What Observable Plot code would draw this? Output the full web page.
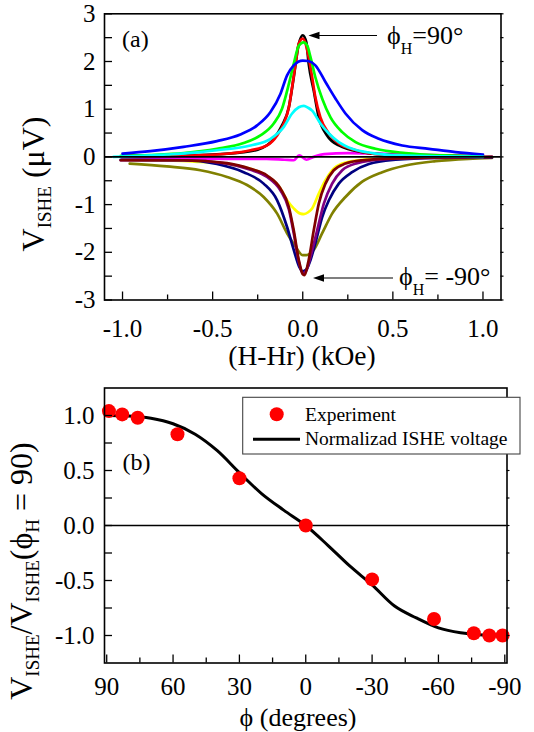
<!DOCTYPE html>
<html><head><meta charset="utf-8">
<script src="https://cdn.jsdelivr.net/npm/d3@7"></script>
<script src="https://cdn.jsdelivr.net/npm/@observablehq/plot@0.6"></script>
<style>
body{margin:0;background:#fff;}
#wrap{width:534px;height:732px;position:relative;overflow:hidden;background:#fff;}
svg{display:block;}
</style></head><body><div id="wrap"></div>
<script>
// ---------- Panel (a) data: [H - Hr (kOe), V_ISHE (µV)] ----------
const magentaA = [[-1.0,-0.02],[-0.8,-0.03],[-0.6,-0.03],[-0.4,-0.04],[-0.2,-0.04],[-0.1,-0.06],[-0.05,-0.07],[-0.02,0.03],[0.02,-0.06],[0.06,0.0],[0.12,0.06],[0.25,0.08],[0.4,0.07],[0.6,0.05],[0.8,0.03],[1.0,0.01]];
const oliveA = [[-0.96,-0.14],[-0.754,-0.20],[-0.568,-0.28],[-0.42,-0.42],[-0.309,-0.59],[-0.217,-0.84],[-0.142,-1.19],[-0.087,-1.60],[-0.04,-1.88],[0.0,-2.06],[0.02,-2.06],[0.061,-1.95],[0.108,-1.60],[0.163,-1.19],[0.237,-0.84],[0.33,-0.52],[0.441,-0.32],[0.57,-0.18],[0.737,-0.09],[0.92,-0.04],[1.05,-0.02]];
const yellowA = [[-1.0,-0.06],[-0.6,-0.10],[-0.4,-0.16],[-0.29,-0.25],[-0.198,-0.40],[-0.124,-0.66],[-0.087,-0.91],[-0.05,-1.08],[-0.013,-1.19],[0.006,-1.20],[0.03,-1.16],[0.052,-1.08],[0.089,-0.77],[0.126,-0.49],[0.163,-0.28],[0.219,-0.14],[0.33,-0.06],[0.5,-0.03],[0.75,-0.01],[1.0,0.0]];
const navyA = [[-1.01,-0.06],[-0.66,-0.07],[-0.476,-0.15],[-0.328,-0.32],[-0.217,-0.56],[-0.142,-0.91],[-0.087,-1.47],[-0.05,-1.95],[-0.02,-2.30],[0.0,-2.40],[0.02,-2.36],[0.043,-2.16],[0.07,-1.81],[0.108,-1.26],[0.145,-0.91],[0.2,-0.56],[0.274,-0.32],[0.367,-0.15],[0.515,-0.06],[0.74,-0.02],[1.05,-0.01]];
const purpleA = [[-1.01,-0.07],[-0.66,-0.07],[-0.42,-0.14],[-0.29,-0.27],[-0.198,-0.42],[-0.124,-0.70],[-0.077,-1.10],[-0.05,-1.60],[-0.022,-2.20],[0.0,-2.44],[0.02,-2.38],[0.043,-2.09],[0.08,-1.54],[0.117,-0.98],[0.163,-0.56],[0.219,-0.28],[0.302,-0.13],[0.44,-0.05],[0.7,-0.02],[1.05,0.0]];
const maroonA = [[-1.01,-0.07],[-0.66,-0.07],[-0.42,-0.13],[-0.29,-0.25],[-0.198,-0.39],[-0.124,-0.66],[-0.077,-1.05],[-0.05,-1.54],[-0.022,-2.16],[0.0,-2.46],[0.008,-2.48],[0.033,-2.16],[0.061,-1.54],[0.089,-0.98],[0.126,-0.56],[0.172,-0.28],[0.237,-0.14],[0.33,-0.07],[0.52,-0.03],[0.75,-0.01],[1.05,0.0]];
const blackA = [[-1.0,0.02],[-0.75,0.03],[-0.5,0.05],[-0.35,0.09],[-0.25,0.15],[-0.16,0.38],[-0.115,0.66],[-0.077,1.04],[-0.05,1.67],[-0.022,2.37],[0.0,2.55],[0.02,2.40],[0.033,1.95],[0.061,1.39],[0.089,0.83],[0.135,0.45],[0.2,0.24],[0.33,0.10],[0.5,0.04],[0.75,0.02],[1.0,0.01]];
const redA = [[-1.0,0.01],[-0.75,0.02],[-0.476,0.05],[-0.29,0.14],[-0.198,0.24],[-0.142,0.45],[-0.105,0.70],[-0.077,1.04],[-0.059,1.46],[-0.04,1.95],[-0.022,2.37],[0.0,2.48],[0.033,2.09],[0.052,1.67],[0.07,1.25],[0.098,0.83],[0.145,0.49],[0.2,0.28],[0.293,0.14],[0.44,0.05],[0.7,0.02],[1.0,0.01]];
const greenA = [[-1.01,0.02],[-0.85,0.04],[-0.66,0.08],[-0.476,0.17],[-0.328,0.29],[-0.235,0.45],[-0.161,0.70],[-0.115,1.01],[-0.077,1.53],[-0.05,1.95],[-0.022,2.33],[0.005,2.40],[0.025,2.33],[0.043,2.09],[0.07,1.67],[0.108,1.22],[0.154,0.83],[0.219,0.52],[0.293,0.31],[0.404,0.17],[0.57,0.08],[0.79,0.03],[1.0,0.01]];
const blueA = [[-1.0,0.07],[-0.846,0.12],[-0.661,0.21],[-0.476,0.33],[-0.346,0.47],[-0.253,0.66],[-0.179,0.94],[-0.124,1.32],[-0.087,1.71],[-0.05,1.92],[0.0,2.02],[0.03,2.01],[0.07,1.92],[0.126,1.57],[0.182,1.22],[0.237,0.91],[0.33,0.56],[0.422,0.38],[0.552,0.24],[0.70,0.17],[0.848,0.10],[1.0,0.05]];
const cyanA = [[-1.05,0.0],[-0.9,0.02],[-0.754,0.05],[-0.6,0.09],[-0.476,0.14],[-0.29,0.24],[-0.179,0.38],[-0.105,0.63],[-0.059,0.91],[-0.022,1.04],[0.006,1.07],[0.03,1.03],[0.052,0.97],[0.098,0.70],[0.145,0.49],[0.2,0.31],[0.274,0.17],[0.386,0.08],[0.55,0.03],[0.8,0.01],[1.0,0.0]];

const xMajorA = [-1.0, -0.5, 0.0, 0.5, 1.0];
const xMinorA = [-0.75, -0.25, 0.25, 0.75];
const yMajorA = [-3, -2, -1, 0, 1, 2, 3];
const yMinorA = [-2.5, -1.5, -0.5, 0.5, 1.5, 2.5];

// ---------- Panel (b) data ----------
const expPhi = [89, 83, 76, 58, 30, 0, -30, -58, -76, -83, -89];
const expV   = [1.04, 1.01, 0.98, 0.83, 0.43, 0.0, -0.49, -0.85, -0.98, -1.0, -1.0];
const fitPhi = [90, 80, 70, 60, 50, 40, 30, 20, 10, 0, -10, -20, -30, -40, -50, -60, -70, -80, -90];
const fitV   = [1.0, 0.995, 0.975, 0.925, 0.83, 0.68, 0.48, 0.29, 0.14, 0.0, -0.18, -0.37, -0.54, -0.73, -0.84, -0.93, -0.975, -0.995, -1.0];
const xMajorB = [90, 60, 30, 0, -30, -60, -90];
const xMinorB = [75, 45, 15, -15, -45, -75];
const yMajorB = [-1.0, -0.5, 0.0, 0.5, 1.0];
const yMinorB = [-0.75, -0.25, 0.25, 0.75];

const FONT = "'Liberation Serif','Times New Roman',Times,serif";
const wrap = document.getElementById("wrap");

// ---------- Panel (a) ----------
const A = {w:534, h:372, mt:13.3, mb:72.5, ml:104, mr:33.5, xd:[-1.1,1.1], yd:[-3,3]};
const pxA = (A.xd[1]-A.xd[0])/(A.w-A.ml-A.mr);   // data units per px (x)
const pyA = (A.yd[1]-A.yd[0])/(A.h-A.mt-A.mb);   // data units per px (y)

const seriesA = [
  [magentaA,"#ff00ff"],[oliveA,"#808000"],[yellowA,"#ffff00"],[navyA,"#000080"],
  [purpleA,"#800080"],[maroonA,"#800000"],[blackA,"#000000"],[redA,"#ff0000"],
  [greenA,"#00ff00"],[blueA,"#0000ff"],[cyanA,"#00ffff"]
];

const plotA = Plot.plot({
  width: A.w, height: A.h, marginTop: A.mt, marginBottom: A.mb, marginLeft: A.ml, marginRight: A.mr,
  style: {fontFamily: FONT, fontSize: "25px", color: "#000", background: "#fff", overflow: "visible"},
  x: {domain: A.xd, ticks: xMajorA, tickFormat: d => d.toFixed(1), tickSize: 0, tickPadding: 19, label: null},
  y: {domain: A.yd, ticks: yMajorA, tickFormat: d => String(d), tickSize: 0, tickPadding: 9, label: null},
  marks: [
    ...seriesA.map(([data, color]) => Plot.line(data, {x: d => d[0], y: d => d[1], stroke: color, strokeWidth: 2.7, curve: "monotone-x"})),
    Plot.ruleY([0], {stroke: "#000", strokeWidth: 1.6}),
    Plot.ruleY(yMajorA.concat(yMinorA), {y: d => d, x1: A.xd[0], x2: A.xd[0] + 8*pxA, stroke: "#000", strokeWidth: 1.3}),
    Plot.ruleY(yMajorA.concat(yMinorA), {y: d => d, x1: A.xd[1], x2: A.xd[1] + 3*pxA, stroke: "#000", strokeWidth: 1.2}),
    Plot.ruleX(xMajorA, {x: d => d, y1: A.yd[0], y2: A.yd[0] + 8*pyA, stroke: "#000", strokeWidth: 1.3}),
    Plot.ruleX(xMinorA, {x: d => d, y1: A.yd[0], y2: A.yd[0] + 5*pyA, stroke: "#000", strokeWidth: 1.3}),
    Plot.frame({stroke: "#000", strokeWidth: 1.6})
  ]
});
wrap.appendChild(plotA);

// ---------- Panel (b) ----------
const B = {w:534, h:360, mt:15.5, mb:69.5, ml:104, mr:27.5, xd:[91,-91], yd:[-1.25,1.25]};
const pxB = (B.xd[0]-B.xd[1])/(B.w-B.ml-B.mr);
const pyB = (B.yd[1]-B.yd[0])/(B.h-B.mt-B.mb);
const expRows = expPhi.map((p, i) => ({p, v: expV[i]}));
const fitRows = fitPhi.map((p, i) => ({p, v: fitV[i]}));

const plotB = Plot.plot({
  width: B.w, height: B.h, marginTop: B.mt, marginBottom: B.mb, marginLeft: B.ml, marginRight: B.mr,
  style: {fontFamily: FONT, fontSize: "25px", color: "#000", background: "#fff", overflow: "visible"},
  x: {domain: B.xd, ticks: xMajorB, tickFormat: d => String(d), tickSize: 0, tickPadding: 14.5, label: null},
  y: {domain: B.yd, ticks: yMajorB, tickFormat: d => d.toFixed(1), tickSize: 0, tickPadding: 10, label: null},
  marks: [
    Plot.ruleY([0], {stroke: "#000", strokeWidth: 1.5}),
    Plot.line(fitRows, {x: "p", y: "v", stroke: "#000", strokeWidth: 3, curve: "monotone-x"}),
    Plot.dot(expRows, {x: "p", y: "v", r: 7, fill: "#ff0000", stroke: "none"}),
    Plot.ruleY(yMajorB.concat(yMinorB), {y: d => d, x1: B.xd[0], x2: B.xd[0] - 8*pxB, stroke: "#000", strokeWidth: 1.3}),
    Plot.ruleY(yMajorB.concat(yMinorB), {y: d => d, x1: B.xd[1], x2: B.xd[1] - 3*pxB, stroke: "#000", strokeWidth: 1.2}),
    Plot.ruleX(xMajorB, {x: d => d, y1: B.yd[0], y2: B.yd[0] + 8*pyB, stroke: "#000", strokeWidth: 1.3}),
    Plot.ruleX(xMinorB, {x: d => d, y1: B.yd[0], y2: B.yd[0] + 5*pyB, stroke: "#000", strokeWidth: 1.3}),
    Plot.frame({stroke: "#000", strokeWidth: 1.6})
  ]
});
wrap.appendChild(plotB);

// ---------- text helpers ----------
function rich(sel, parts, {x, y, size, sub, shift, anchor = "start", rotate = false}) {
  const t = sel.append("text")
    .attr("font-family", FONT).attr("font-size", size).attr("fill", "#000")
    .attr("text-anchor", anchor)
    .attr("transform", `translate(${x},${y})` + (rotate ? " rotate(-90)" : ""));
  let down = false;
  parts.forEach(([s, isSub]) => {
    const ts = t.append("tspan").text(s);
    if (isSub && !down) { ts.attr("font-size", sub).attr("dy", shift); down = true; }
    else if (!isSub && down) { ts.attr("dy", -shift); down = false; }
    else if (isSub) ts.attr("font-size", sub);
  });
  return t;
}
function arrow(sel, x1, x2, y) {
  sel.append("line").attr("x1", x1).attr("x2", x2 + 8).attr("y1", y).attr("y2", y)
    .attr("stroke", "#000").attr("stroke-width", 1.2);
  sel.append("path").attr("d", `M${x2},${y} L${x2 + 11},${y - 3.8} L${x2 + 11},${y + 3.8} Z`).attr("fill", "#000");
}

// Panel (a) annotations
const sa = d3.select(plotA);
rich(sa, [["(a)", false]], {x: 122, y: 47, size: 24});
arrow(sa, 377, 308.5, 35.5);
rich(sa, [["ϕ", false], ["H", true], ["=90°", false]], {x: 387, y: 44, size: 26, sub: 16, shift: 10});
arrow(sa, 393, 313, 278);
rich(sa, [["ϕ", false], ["H", true], ["= -90°", false]], {x: 399, y: 285, size: 26, sub: 16, shift: 10});
rich(sa, [["(H-Hr) (kOe)", false]], {x: 302, y: 365, size: 27.5, anchor: "middle"});
rich(sa, [["V", false], ["ISHE", true], [" (μV)", false]], {x: 44, y: 184, size: 32, sub: 19, shift: 7, anchor: "middle", rotate: true});

// Panel (b) annotations & legend
const sb = d3.select(plotB);
rich(sb, [["(b)", false]], {x: 122.5, y: 98, size: 24});
sb.append("rect").attr("x", 242.7).attr("y", 25.3).attr("width", 277.3).attr("height", 56.7)
  .attr("fill", "#fff").attr("stroke", "#444").attr("stroke-width", 1.1);
sb.append("circle").attr("cx", 276.7).attr("cy", 42.3).attr("r", 7).attr("fill", "#ff0000");
sb.append("line").attr("x1", 253).attr("x2", 300).attr("y1", 67.3).attr("y2", 67.3).attr("stroke", "#000").attr("stroke-width", 3);
rich(sb, [["Experiment", false]], {x: 305, y: 48.5, size: 19.5});
rich(sb, [["Normalizad ISHE voltage", false]], {x: 305, y: 73, size: 19.5});
rich(sb, [["ϕ (degrees)", false]], {x: 298, y: 353.5, size: 26, anchor: "middle"});
rich(sb, [["V", false], ["ISHE", true], ["/V", false], ["ISHE", true], ["(ϕ", false], ["H", true], [" = 90)", false]],
  {x: 31.5, y: 199, size: 32, sub: 19, shift: 7, anchor: "middle", rotate: true});
</script></body></html>
